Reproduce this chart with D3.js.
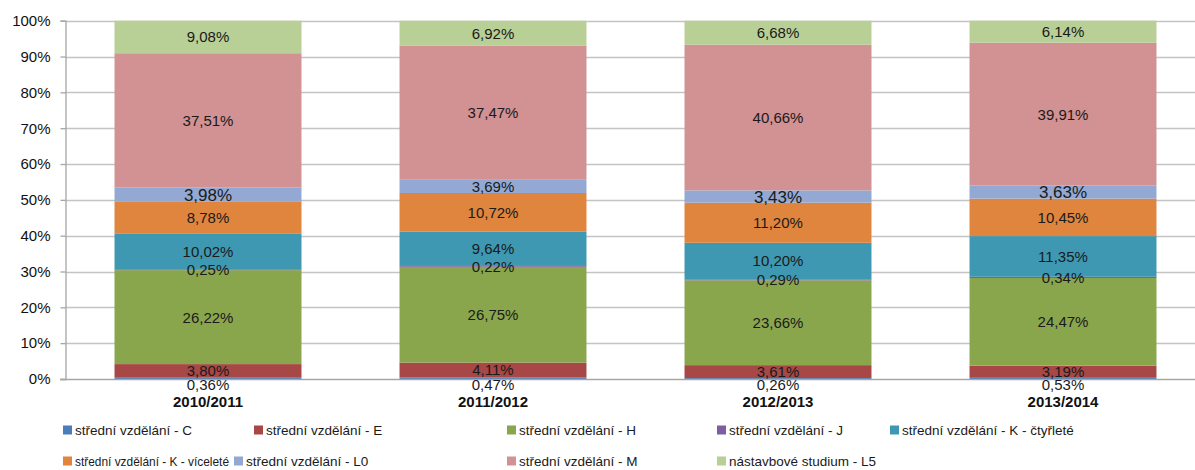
<!DOCTYPE html>
<html><head><meta charset="utf-8">
<script src="https://cdn.jsdelivr.net/npm/d3@7"></script>
<style>
html,body{margin:0;padding:0;background:#fff;}
svg{display:block;font-family:"Liberation Sans",Arial,sans-serif;}
</style></head>
<body>
<svg id="chart" width="1195" height="470"></svg>
<script>
const categories = ["2010/2011","2011/2012","2012/2013","2013/2014"];
const seriesNames = ["střední vzdělání - C","střední vzdělání - E","střední vzdělání - H","střední vzdělání - J","střední vzdělání - K - čtyřleté","střední vzdělání - K - víceleté","střední vzdělání - L0","střední vzdělání - M","nástavbové studium - L5"];
const valC  = [0.36, 0.47, 0.26, 0.53];
const valE  = [3.80, 4.11, 3.61, 3.19];
const valH  = [26.22, 26.75, 23.66, 24.47];
const valJ  = [0.25, 0.22, 0.29, 0.34];
const valKc = [10.02, 9.64, 10.20, 11.35];
const valKv = [8.78, 10.72, 11.20, 10.45];
const valL0 = [3.98, 3.69, 3.43, 3.63];
const valM  = [37.51, 37.47, 40.66, 39.91];
const valL5 = [9.08, 6.92, 6.68, 6.14];
const yTicks = [0,10,20,30,40,50,60,70,80,90,100];

const seriesValues = [valC,valE,valH,valJ,valKc,valKv,valL0,valM,valL5];
const colors = ["#4A7EBB","#A84846","#8AA64D","#7D5F9F","#3E98B2","#DF853E","#93A9D3","#D29192","#B8CF96"];

const svg = d3.select("#chart");
const y = d3.scaleLinear().domain([0,100]).range([379,20.7]);
const x = d3.scaleBand().domain(categories).range([65.5,1205.5]).paddingInner(0.344).paddingOuter(0.172);

// gridlines
svg.append("g").selectAll("line").data(yTicks.filter(d=>d>0)).join("line")
  .attr("x1",65).attr("x2",1195).attr("y1",d=>Math.round(y(d))+0.5).attr("y2",d=>Math.round(y(d))+0.5)
  .attr("stroke","#c4c4c4").attr("stroke-width",1.3);

// y axis
const yAxis = d3.axisLeft(y).tickValues(yTicks).tickFormat(d=>d+"%").tickSize(5).tickPadding(10);
const gy = svg.append("g").attr("transform","translate(65.5,0)").call(yAxis);
gy.select(".domain").attr("stroke","#a6a6a6").attr("stroke-width",1.3);
gy.selectAll(".tick line").attr("stroke","#a6a6a6").attr("stroke-width",1.3);
gy.selectAll(".tick text").attr("font-size",15).attr("fill","#111").attr("font-family","Liberation Sans, Arial, sans-serif");

// stacked data
const rows = categories.map((c,i)=>{const o={cat:c}; seriesNames.forEach((s,j)=>o[s]=seriesValues[j][i]); return o;});
const stack = d3.stack().keys(seriesNames)(rows);

const gBars = svg.append("g");
stack.forEach((layer,j)=>{
  gBars.append("g").attr("fill",colors[j]).selectAll("rect").data(layer).join("rect")
    .attr("x",d=>x(d.data.cat)).attr("width",x.bandwidth())
    .attr("y",d=>y(d[1])).attr("height",d=>Math.max(0.8,y(d[0])-y(d[1])));
});

// x axis baseline
svg.append("line").attr("x1",60).attr("x2",1195).attr("y1",379.5).attr("y2",379.5)
  .attr("stroke","#a6a6a6").attr("stroke-width",1.3);

// data labels
const fmt = v=>v.toFixed(2).replace(".",",")+"%";
const bigL0 = new Set([0,2,3]);
const gLab = svg.append("g").attr("text-anchor","middle").attr("fill","#1a1a1a");
stack.forEach((layer,j)=>{
  layer.forEach((d,i)=>{
    let cy = (y(d[0])+y(d[1]))/2;
    let fs = 15;
    if (j===0) cy = y(0)+6;
    if (j===6 && bigL0.has(i)) fs = 17;
    gLab.append("text").attr("x",x(d.data.cat)+x.bandwidth()/2).attr("y",cy)
      .attr("dy","0.36em").attr("font-size",fs).text(fmt(seriesValues[j][i]));
  });
});

// category labels
svg.append("g").selectAll("text").data(categories).join("text")
  .attr("x",d=>x(d)+x.bandwidth()/2).attr("y",407).attr("text-anchor","middle")
  .attr("font-size",15).attr("font-weight","bold").attr("fill","#111").text(d=>d);

// legend
const legendPos = [[63,430],[254,430],[507,430],[717,430],[890,430],[63,461],[234,461],[507,461],[717,461]];
const gLeg = svg.append("g");
seriesNames.forEach((s,j)=>{
  const [lx,ly] = legendPos[j];
  gLeg.append("rect").attr("x",lx).attr("y",ly-4.5).attr("width",9).attr("height",9).attr("fill",colors[j]);
  const t = gLeg.append("text").attr("x",lx+12).attr("y",ly).attr("dy","0.36em").attr("font-size",13.5).attr("fill","#1a1a1a").text(s);
  const w = t.node().getComputedTextLength();
  const next = legendPos.find((p,k)=>k>j && p[1]===ly);
  if (next && lx+12+w > next[0]-4) {
    t.attr("textLength", next[0]-lx-17).attr("lengthAdjust","spacingAndGlyphs");
  }
});
</script>
</body></html>
